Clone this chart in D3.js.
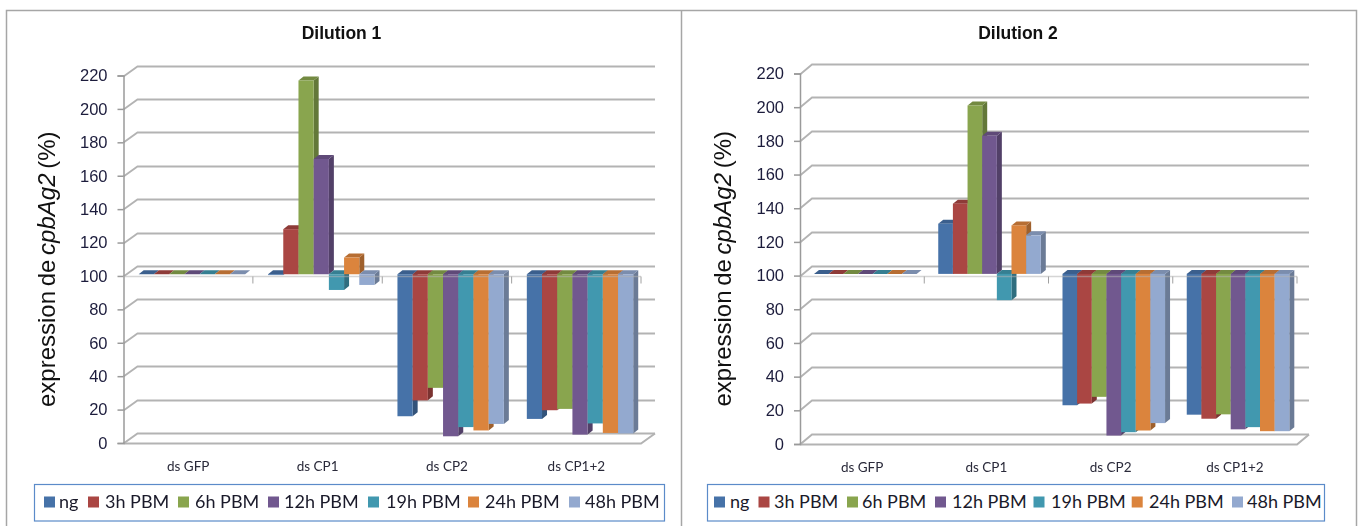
<!DOCTYPE html>
<html><head><meta charset="utf-8">
<script src="https://cdn.jsdelivr.net/npm/d3@7/dist/d3.min.js"></script>
<style>
html,body{margin:0;padding:0;background:#fff;overflow:hidden}
svg{display:block;filter:blur(.4px)}
</style></head><body><svg id="c" width="1362" height="526"></svg>
<script>
const categories = ["ds GFP","ds CP1","ds CP2","ds CP1+2"];
const seriesNames = ["ng","3h PBM","6h PBM","12h PBM","19h PBM","24h PBM","48h PBM"];
const seriesColors = ["#4672a8","#aa4643","#89a54e","#71588f","#4198af","#db843d","#93a9cf"];
const yTicks = [0,20,40,60,80,100,120,140,160,180,200,220];

// values per series: ds GFP, ds CP1, ds CP2, ds CP1+2
const d1Ng    = [100, 99.5, 15,   13.4];
const d1H3    = [100, 127,  24.5, 18.6];
const d1H6    = [100, 216,  32,   19.4];
const d1H12   = [100, 169,  3,    4];
const d1H19   = [100, 90.6, 8.5,  10.7];
const d1H24   = [100, 110,  6.5,  5];
const d1H48   = [100, 93.6, 10.4, 4.7];

const d2Ng    = [100, 129.8, 22,  16.4];
const d2H3    = [100, 141.7, 23,  14];
const d2H6    = [100, 200,   27,  16.6];
const d2H12   = [100, 182,   4,   7.7];
const d2H19   = [100, 84.4,  6,   9];
const d2H24   = [100, 128.8, 7,   6.6];
const d2H48   = [100, 122.9, 11.4,6.6];

const dilution1 = [d1Ng,d1H3,d1H6,d1H12,d1H19,d1H24,d1H48];
const dilution2 = [d2Ng,d2H3,d2H6,d2H12,d2H19,d2H24,d2H48];

const panels = [
 {title:"Dilution 1",data:dilution1,titleX:341.5,left:123.5,right:641,y0:443,y220:75.5,dx:14,dy:-10,barStart:15.2,barW:15.2,
  labelX:48,legend:[34,664],swatch:[44,88,178,268,368,468,569],text:[59,105,195,284,386,485,585]},
 {title:"Dilution 2",data:dilution2,titleX:1018,left:800,right:1297,y0:444,y220:73.5,dx:12,dy:-10,barStart:14,barW:14.65,
  labelX:724,legend:[707,1324],swatch:[714,758.5,847,935,1033.5,1131.7,1232],text:[730,774,862,952,1051,1149,1247]}
];

const svg = d3.select("#c");
const grid = "#b3b3b3", ink = "#1c1c3c";

// outer frames
svg.append("path").attr("d","M6.5,540V10.5H1356.5V540M681.5,10.5V540")
   .attr("fill","none").attr("stroke","#a6a6a6").attr("stroke-width",1.5);

panels.forEach(p=>{
  const g = svg.append("g");
  const y = d3.scaleLinear().domain([0,220]).range([p.y0,p.y220]);
  const x0 = d3.scaleBand().domain(categories).range([p.left,p.right]);
  const x1 = d3.scaleBand().domain(seriesNames).range([p.barStart,p.barStart+7*p.barW]);
  const barY = v=>y(v)-1.7;

  g.append("text").attr("x",p.titleX).attr("y",39).attr("text-anchor","middle")
    .attr("font-family","Liberation Sans").attr("font-weight","bold").attr("font-size",17.5).attr("fill","#111").text(p.title);

  // back wall lines with side diagonals
  yTicks.forEach(t=>{
    const yy=Math.round(y(t))+.5;
    g.append("path").attr("d",`M${p.left},${yy}L${p.left+p.dx},${yy+p.dy}H${p.right+p.dx}`)
      .attr("fill","none").attr("stroke",grid).attr("stroke-width",t===0?2:1.8);
  });
  // floor front edge
  const yz=Math.round(y(0))+.5;
  g.append("path").attr("d",`M${p.left},${yz}H${p.right}L${p.right+p.dx},${yz+p.dy}`)
    .attr("fill","none").attr("stroke",grid).attr("stroke-width",2);

  // left axis
  const ax=g.append("g").attr("transform",`translate(${p.left},0)`)
    .call(d3.axisLeft(y).tickValues(yTicks).tickSize(6).tickPadding(10));
  ax.selectAll("path,line").attr("stroke","#9a9a9a").attr("stroke-width",1.5);
  ax.selectAll("text").attr("font-family","Liberation Sans").attr("font-size",16.5).attr("fill",ink);

  // bars
  p.data.forEach((vals,s)=>{
    const name=seriesNames[s],col=seriesColors[s];
    const dark=d3.color(col).darker(.9).formatHex();
    const mid=d3.color(col).darker(.5).formatHex();
    const dep=5,rise=-4;
    vals.forEach((v,c)=>{
      const xL=x0(categories[c])+x1(name),w=x1.bandwidth();
      const a=barY(100),b=barY(v),top=Math.min(a,b),bot=Math.max(a,b);
      g.append("path").attr("d",`M${xL+w},${top}l${dep},${rise}V${bot+rise}l${-dep},${-rise}Z`).attr("fill",dark);
      g.append("path").attr("d",`M${xL},${top}l${dep},${rise}h${w}l${-dep},${-rise}Z`).attr("fill",mid);
      g.append("rect").attr("x",xL).attr("y",top).attr("width",w).attr("height",bot-top).attr("fill",col);
    });
  });

  // crossing axis at 100 with category ticks
  const y100=Math.round(y(100))+.5;
  g.append("line").attr("x1",p.left).attr("x2",p.right).attr("y1",y100).attr("y2",y100)
    .attr("stroke",grid).attr("stroke-width",1.6).attr("stroke-opacity",.55);
  categories.map(c=>x0(c)+x0.bandwidth()).forEach(xx=>{
    g.append("line").attr("x1",xx).attr("x2",xx).attr("y1",y100).attr("y2",y100+7)
      .attr("stroke","#a0a0a0").attr("stroke-width",1);
  });

  // category labels
  const cx=g.append("g").attr("transform",`translate(0,${p.y0+9})`)
    .call(d3.axisBottom(x0).tickSize(0).tickPadding(9));
  cx.select("path").remove();
  cx.selectAll("text").attr("font-family","Lato").attr("font-size",13.5).attr("fill","#2a2a3a");

  // y title
  const cy=(p.y0+p.y220)/2+10;
  const t=g.append("text").attr("transform",`translate(${p.labelX+7},${cy}) rotate(-90)`).attr("text-anchor","middle")
    .attr("font-family","Liberation Sans").attr("font-size",24).attr("word-spacing",-2).attr("fill","#111");
  t.append("tspan").text("expression de ");
  t.append("tspan").attr("font-style","italic").text("cpbAg2");
  t.append("tspan").text(" (%)");

  // legend
  g.append("rect").attr("x",p.legend[0]+.5).attr("y",484.5).attr("width",p.legend[1]-p.legend[0]).attr("height",36.5)
    .attr("fill","#fff").attr("stroke","#5b8bc9").attr("stroke-width",1.2);
  seriesNames.forEach((n,i)=>{
    g.append("rect").attr("x",p.swatch[i]).attr("y",496.5).attr("width",11).attr("height",11).attr("fill",seriesColors[i]);
    g.append("text").attr("x",p.text[i]).attr("y",508).attr("font-family","Lato").attr("font-size",18).attr("fill","#1a1a2a").text(n);
  });
});
</script></body></html>
